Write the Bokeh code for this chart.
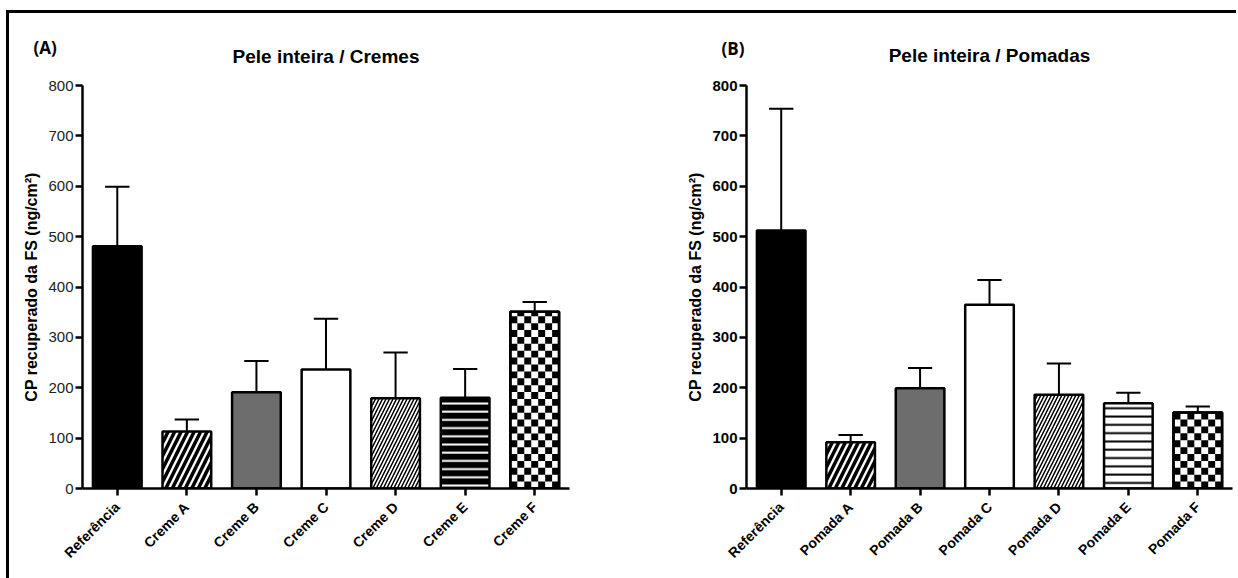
from math import pi, ceil

from bokeh.embed import file_html
from bokeh.layouts import column, row
from bokeh.models import ColumnDataSource, Div, FixedTicker, Range1d, TeeHead, Whisker
from bokeh.plotting import figure
from bokeh.resources import INLINE

# ---- data -----------------------------------------------------------------
y_ticks = [0, 100, 200, 300, 400, 500, 600, 700, 800]

cremes_labels = ["Referência", "Creme A", "Creme B", "Creme C", "Creme D", "Creme E", "Creme F"]
cremes_mean = [481, 113, 191, 236, 179, 180, 351]
cremes_upper = [599, 137, 253, 337, 270, 237, 370]

pomadas_labels = ["Referência", "Pomada A", "Pomada B", "Pomada C", "Pomada D", "Pomada E", "Pomada F"]
pomadas_mean = [512, 92, 199, 365, 186, 169, 151]
pomadas_upper = [754, 106, 239, 414, 248, 190, 163]

FONT = "Liberation Sans"
BAR_W = 0.7
CHECKER_COLS = 7


def bar_styles(e_dark):
    """Fill / hatch style for each of the seven bars."""
    e_style = (dict(fill_color="black", hatch_pattern="horizontal_line", hatch_color="white",
                    hatch_scale=8.2, hatch_weight=2.0)
               if e_dark else
               dict(fill_color="white", hatch_pattern="horizontal_line", hatch_color="black",
                    hatch_scale=8.3, hatch_weight=2.0))
    return [
        dict(fill_color="black"),
        dict(fill_color="white", hatch_pattern="right_diagonal_line", hatch_color="black",
             hatch_scale=13, hatch_weight=3.5),
        dict(fill_color="#6d6d6d"),
        dict(fill_color="white"),
        dict(fill_color="white", hatch_pattern="right_diagonal_line", hatch_color="black",
             hatch_scale=7, hatch_weight=1.5),
        e_style,
        dict(fill_color="white", checker=CHECKER_COLS),
    ]


def make_panel(labels, means, uppers, title, styles, width, height, borders, tick_style,
               title_standoff):
    left, right, top, bottom = borders
    p = figure(width=width, height=height, output_backend="svg", toolbar_location=None,
               x_range=Range1d(-0.5, len(labels) - 0.5), y_range=Range1d(0, y_ticks[-1]),
               min_border_left=left, min_border_right=right,
               min_border_top=top, min_border_bottom=bottom)
    p.outline_line_color = None
    p.xgrid.visible = False
    p.ygrid.visible = False
    p.background_fill_color = "white"
    p.border_fill_alpha = 0

    frame_w = width - left - right
    frame_h = height - top - bottom
    px_x = frame_w / len(labels)           # pixels per category unit
    px_y = frame_h / y_ticks[-1]           # pixels per value unit

    xs = list(range(len(labels)))
    for i, st in enumerate(styles):
        st = dict(st)
        ncols = st.pop("checker", None)
        p.vbar(x=[xs[i]], top=[means[i]], width=BAR_W, line_color="black",
               line_width=2.5, **st)
        if ncols:
            # checkerboard of square cells filling the bar
            cw = BAR_W / ncols
            ch = cw * px_x / px_y
            nrows = ceil(means[i] / ch)
            l, r, b, t = [], [], [], []
            for rr in range(nrows):
                for cc in range(ncols):
                    if (rr + cc) % 2 == 0:
                        x0 = xs[i] - BAR_W / 2 + cc * cw
                        l.append(x0)
                        r.append(x0 + cw)
                        b.append(rr * ch)
                        t.append(min((rr + 1) * ch, means[i]))
            p.quad(left=l, right=r, bottom=b, top=t, fill_color="black", line_color=None)
            p.vbar(x=[xs[i]], top=[means[i]], width=BAR_W, fill_color=None,
                   line_color="black", line_width=2.5)

    err = ColumnDataSource(dict(x=xs, lower=means, upper=uppers))
    p.add_layout(Whisker(source=err, base="x", lower="lower", upper="upper",
                         dimension="height", line_color="black", line_width=2,
                         upper_head=TeeHead(size=px_x * 0.35, line_color="black", line_width=2),
                         lower_head=None))

    # title
    p.title.text = title
    p.title.align = "center"
    p.title.text_font = FONT
    p.title.text_font_size = "19px"
    p.title.text_font_style = "bold"
    p.title.text_color = "black"
    p.title.standoff = title_standoff

    # axes
    xa = p.xaxis[0]
    xa.ticker = FixedTicker(ticks=xs)
    xa.major_label_overrides = {i: lab for i, lab in enumerate(labels)}
    xa.major_label_orientation = pi / 4
    xa.major_label_text_font = FONT
    xa.major_label_text_font_size = "14px"
    xa.major_label_text_font_style = "bold"
    xa.major_label_text_color = "black"
    xa.major_label_standoff = 9
    xa.axis_line_width = 2.5
    xa.axis_line_color = "black"
    xa.major_tick_line_width = 2.5
    xa.major_tick_out = 7
    xa.major_tick_in = 0
    xa.minor_tick_line_color = None

    ya = p.yaxis[0]
    ya.ticker = FixedTicker(ticks=y_ticks)
    ya.axis_label = "CP recuperado da FS (ng/cm²)"
    ya.axis_label_text_font = FONT
    ya.axis_label_text_font_size = "16px"
    ya.axis_label_text_font_style = "bold"
    ya.axis_label_text_color = "black"
    ya.axis_label_standoff = 5
    ya.major_label_text_font = FONT
    ya.major_label_text_font_size = "15px"
    ya.major_label_text_font_style = tick_style[0]
    ya.major_label_text_color = tick_style[1]
    ya.major_label_standoff = 2
    ya.axis_line_width = 2.5
    ya.axis_line_color = "black"
    ya.major_tick_line_width = 2.5
    ya.major_tick_out = 7
    ya.major_tick_in = 0
    ya.minor_tick_line_color = None
    return p


p_a = make_panel(cremes_labels, cremes_mean, cremes_upper, "Pele inteira / Cremes",
                 bar_styles(True), width=611, height=565,
                 borders=(73, 51, 72, 86), tick_style=("normal", "#222222"),
                 title_standoff=38)
p_b = make_panel(pomadas_labels, pomadas_mean, pomadas_upper, "Pele inteira / Pomadas",
                 bar_styles(False), width=616, height=565,
                 borders=(126, 4, 69, 90), tick_style=("bold", "black"),
                 title_standoff=39)

# panel letters, laid over the top-left corner of each panel
tag_css = ("position:absolute;white-space:nowrap;z-index:5;line-height:1;"
           "font-family:'Open Sans';font-weight:bold;font-size:17px;color:black;")
tags = Div(width=2, height=2,
           styles={"position": "absolute", "left": "0px", "top": "0px", "z-index": "5"},
           text=('<div style="position:relative;width:0;height:0;">'
                 f'<span style="{tag_css}left:19.5px;top:8.5px;">(A)</span>'
                 f'<span style="{tag_css}left:707.5px;top:10px;">(B)</span>'
                 '</div>'))

layout = column(tags, row(p_a, p_b), spacing=0, margin=(10, 0, 0, 6),
                styles={"border-top": "3px solid black", "border-left": "3px solid black"})

open("out.html", "w").write(file_html(layout, INLINE))
